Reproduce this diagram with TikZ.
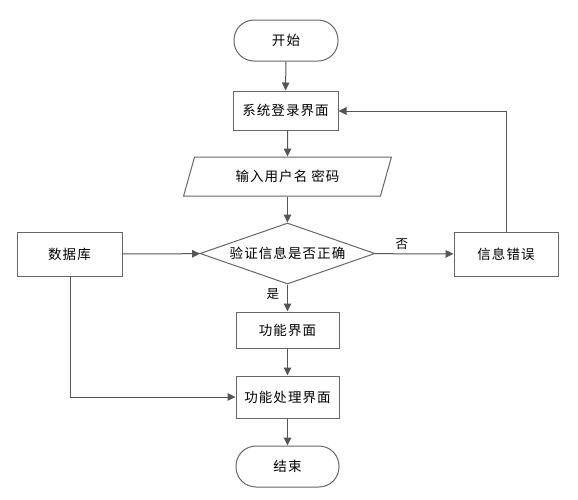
\documentclass[tikz,border=0pt]{standalone}
\usepackage{fontspec}
\newfontfamily\cjk[LetterSpace=8]{Noto Sans CJK SC}
\usetikzlibrary{arrows.meta,shapes.geometric}
\definecolor{edgegray}{HTML}{555555}
\definecolor{boxgray}{HTML}{666666}
\tikzset{
  base/.style={draw=boxgray, line width=1pt, font=\cjk\fontsize{13.5}{15}\selectfont, inner sep=0pt, text=black},
  procbox/.style={base, rectangle, minimum width=#1, minimum height=40pt},
  termbox/.style={base, rectangle, rounded corners=20pt, minimum width=104pt, minimum height=41pt},
  iobox/.style={base, trapezium, trapezium left angle=64, trapezium right angle=116, minimum width=208pt, minimum height=39pt, trapezium stretches=true},
  decbox/.style={base, diamond, minimum width=175pt, minimum height=61pt, aspect=2.87},
  conn/.style={draw=edgegray, line width=1pt, -{Triangle[length=8pt,width=7.5pt]}},
  lbl/.style={font=\cjk\fontsize{12.5}{14}\selectfont, inner sep=0pt}
}
\begin{document}
\begin{tikzpicture}[x=1pt,y=-1pt]
\useasboundingbox (0,0) rectangle (578,499);
\node[termbox] (start) at (286,40.5) {开始};
\node[procbox=105pt, minimum height=39pt] (login) at (285.5,110.5) {系统登录界面};
\node[iobox] (input) at (287.5,176.5) {输入用户名\ 密码};
\node[decbox] (check) at (287.5,253.5) {验证信息是否正确};
\node[procbox=105pt, minimum height=44pt] (db) at (69.5,254) {数据库};
\node[procbox=104pt, minimum height=44pt] (err) at (506,254) {信息错误};
\node[procbox=103pt, minimum height=36pt] (func) at (287.5,330) {功能界面};
\node[procbox=103pt, minimum height=42pt] (proc) at (287.5,397) {功能处理界面};
\node[termbox, minimum width=103pt] (end) at (287.5,466.5) {结束};
\coordinate (corner1) at (506.5,111);
\coordinate (corner2) at (70.5,397);

\draw[conn] (start) -- (login);
\draw[conn] (login.south -| input.north) -- (input);
\draw[conn] (input) -- (check);
\draw[conn] (db) -- (check);
\draw[conn] (check) -- node[lbl, pos=0, anchor=south, xshift=27pt, yshift=4pt] {否} (err);
\draw[conn] (check) -- node[lbl, left, pos=0.35, xshift=-8pt] {是} (func);
\draw[conn] (func) -- (proc);
\draw[conn] (proc) -- (end);
\draw[conn] (err.north -| corner1) -- (corner1) -- (login.east |- corner1);
\draw[conn] (db.south -| corner2) -- (corner2) -- (proc.west);
\end{tikzpicture}
\end{document}
